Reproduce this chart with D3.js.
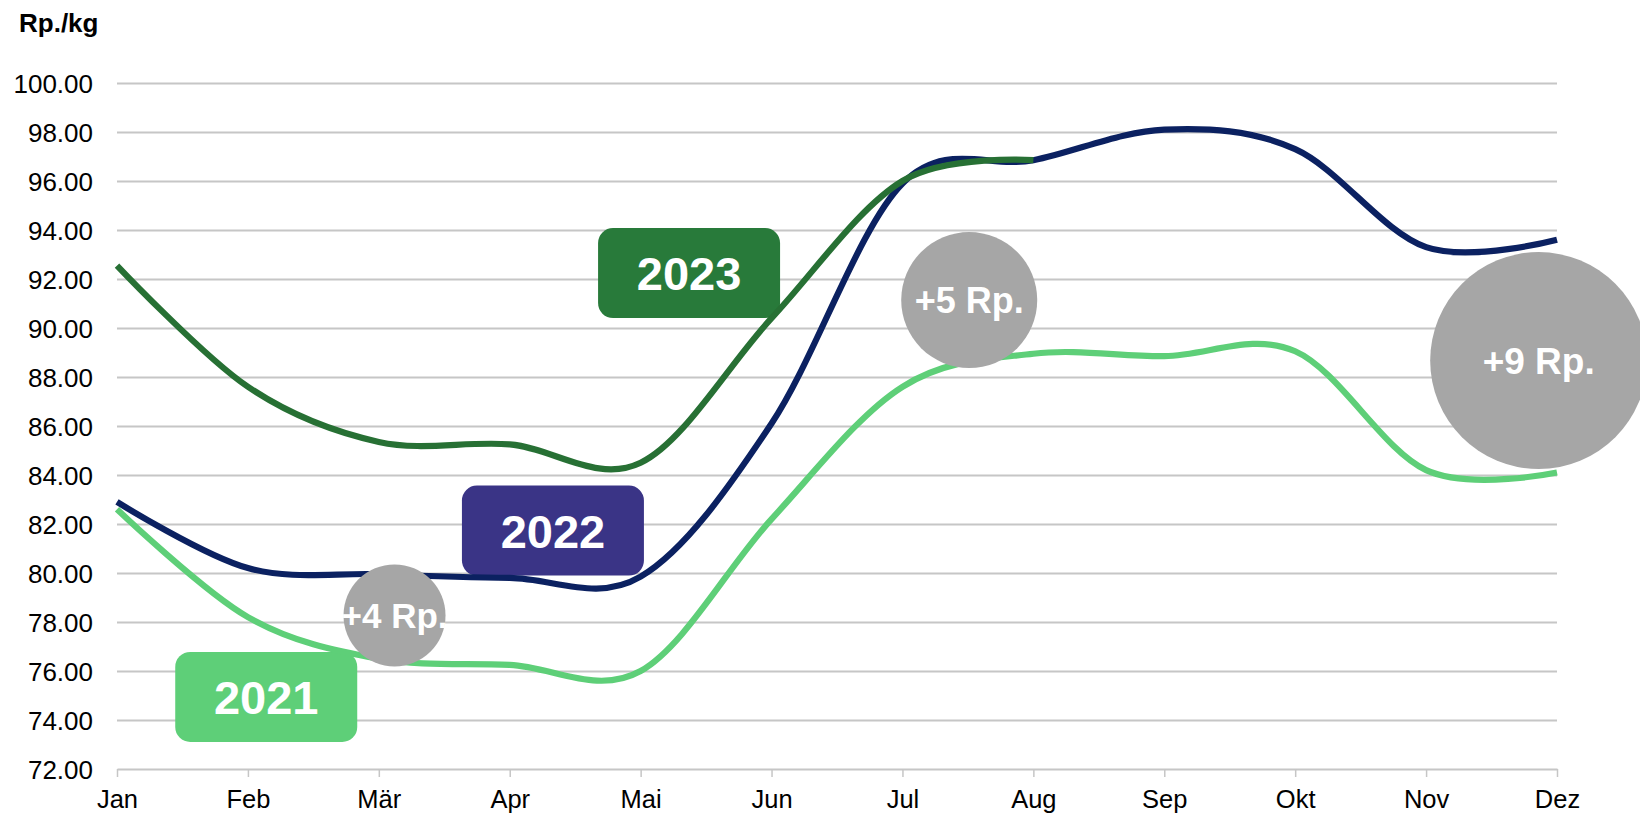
<!DOCTYPE html>
<html>
<head>
<meta charset="utf-8">
<script src="https://cdn.jsdelivr.net/npm/d3@7"></script>
<style>
  body { margin: 0; background: #fff; }
  svg { display: block; font-family: "Liberation Sans", Arial, sans-serif; }
  .grid line { stroke: #c6c6c6; stroke-width: 2px; }
  .grid path { display: none; }
</style>
</head>
<body>
<div id="chart"></div>
<script>
// months on the x axis
const months = ["Jan", "Feb", "Mär", "Apr", "Mai", "Jun", "Jul", "Aug", "Sep", "Okt", "Nov", "Dez"];

// price per kg (Rp.) per month
const values2021 = [82.6, 78.2, 76.5, 76.25, 76.0, 82.2, 87.6, 88.95, 88.85, 89.05, 84.2, 84.1];
const values2022 = [82.9, 80.2, 79.95, 79.8, 79.85, 86.1, 95.9, 96.85, 98.1, 97.3, 93.3, 93.6];
const values2023 = [92.55, 87.6, 85.35, 85.25, 84.5, 90.4, 96.0, 96.85];

// y ticks
const yTicks = [72, 74, 76, 78, 80, 82, 84, 86, 88, 90, 92, 94, 96, 98, 100];

// year tags (month index, value)
const yearNames = ["2021", "2022", "2023"];
const yearMonth = [1.14, 3.33, 4.37];
const yearValue = [74.94, 81.73, 92.24];

// difference bubbles (month index, value)
const diffText = ["+4 Rp.", "+5 Rp.", "+9 Rp."];
const diffMonth = [2.12, 6.51, 10.86];
const diffValue = [78.27, 91.14, 88.67];

const W = 1640, H = 815;
const margin = { top: 83, right: 83, bottom: 46, left: 117 };
const width = W - margin.left - margin.right;
const height = H - margin.top - margin.bottom;

const svg = d3.select("#chart").append("svg")
  .attr("width", W)
  .attr("height", H);

const g = svg.append("g")
  .attr("transform", `translate(${margin.left},${margin.top})`);

const x = d3.scaleLinear().domain([0, 11]).range([0, width]);
const y = d3.scaleLinear().domain([72, 100]).range([height, 0]);

// gridlines
g.append("g")
  .attr("class", "grid")
  .call(d3.axisLeft(y).tickValues(yTicks.slice(1)).tickSize(-width).tickFormat(""));

// y labels
const yAxis = g.append("g")
  .call(d3.axisLeft(y).tickValues(yTicks).tickSize(0).tickPadding(24).tickFormat(d3.format(".2f")));
yAxis.select(".domain").remove();
yAxis.selectAll("text")
  .attr("font-size", 26)
  .attr("font-family", "Liberation Sans, Arial, sans-serif")
  .attr("fill", "#000")
  .attr("dy", "0.36em");

// x axis
const xAxis = g.append("g")
  .attr("transform", `translate(0,${height})`)
  .call(d3.axisBottom(x).tickValues(d3.range(12)).tickSize(8).tickSizeOuter(0).tickPadding(13)
    .tickFormat(i => months[i]));
xAxis.select(".domain").attr("stroke", "#c6c6c6").attr("stroke-width", 2);
xAxis.selectAll(".tick line").attr("stroke", "#c6c6c6").attr("stroke-width", 1.5);
xAxis.selectAll("text")
  .attr("font-size", 25.5)
  .attr("font-family", "Liberation Sans, Arial, sans-serif")
  .attr("fill", "#000");

// unit label
svg.append("text")
  .attr("x", 19)
  .attr("y", 32)
  .attr("font-size", 26)
  .attr("font-weight", "bold")
  .text("Rp./kg");

// year tags (under the lines)
const tagColors = ["#5ecf78", "#3a3486", "#287a3a"];
const tagW = 182, tagH = 90;
const tags = g.selectAll(".tag")
  .data(yearNames)
  .enter()
  .append("g")
  .attr("class", "tag")
  .attr("transform", (d, i) => `translate(${x(yearMonth[i])},${y(yearValue[i])})`);
tags.append("rect")
  .attr("x", -tagW / 2)
  .attr("y", -tagH / 2)
  .attr("width", tagW)
  .attr("height", tagH)
  .attr("rx", 15)
  .attr("fill", (d, i) => tagColors[i]);
tags.append("text")
  .attr("text-anchor", "middle")
  .attr("dy", "0.36em")
  .attr("font-size", 47)
  .attr("font-weight", "bold")
  .attr("fill", "#fff")
  .text(d => d);

// lines
const line = d3.line()
  .x((d, i) => x(i))
  .y(d => y(d))
  .curve(d3.curveCatmullRom.alpha(0));

const series = [
  { values: values2021, color: "#5ecf78" },
  { values: values2022, color: "#0b2161" },
  { values: values2023, color: "#277034" }
];

g.selectAll(".series")
  .data(series)
  .enter()
  .append("path")
  .attr("class", "series")
  .attr("fill", "none")
  .attr("stroke", d => d.color)
  .attr("stroke-width", 6.2)
  .attr("d", d => line(d.values));

// difference bubbles
const radius = [51, 68, 108.5];
const fontSize = [35, 36, 37];
const bubbles = g.selectAll(".bubble")
  .data(diffText)
  .enter()
  .append("g")
  .attr("class", "bubble")
  .attr("transform", (d, i) => `translate(${x(diffMonth[i])},${y(diffValue[i])})`);
bubbles.append("circle")
  .attr("r", (d, i) => radius[i])
  .attr("fill", "#a6a6a6");
bubbles.append("text")
  .attr("text-anchor", "middle")
  .attr("dy", "0.36em")
  .attr("font-size", (d, i) => fontSize[i])
  .attr("font-weight", "bold")
  .attr("fill", "#fff")
  .text(d => d);
</script>
</body>
</html>
